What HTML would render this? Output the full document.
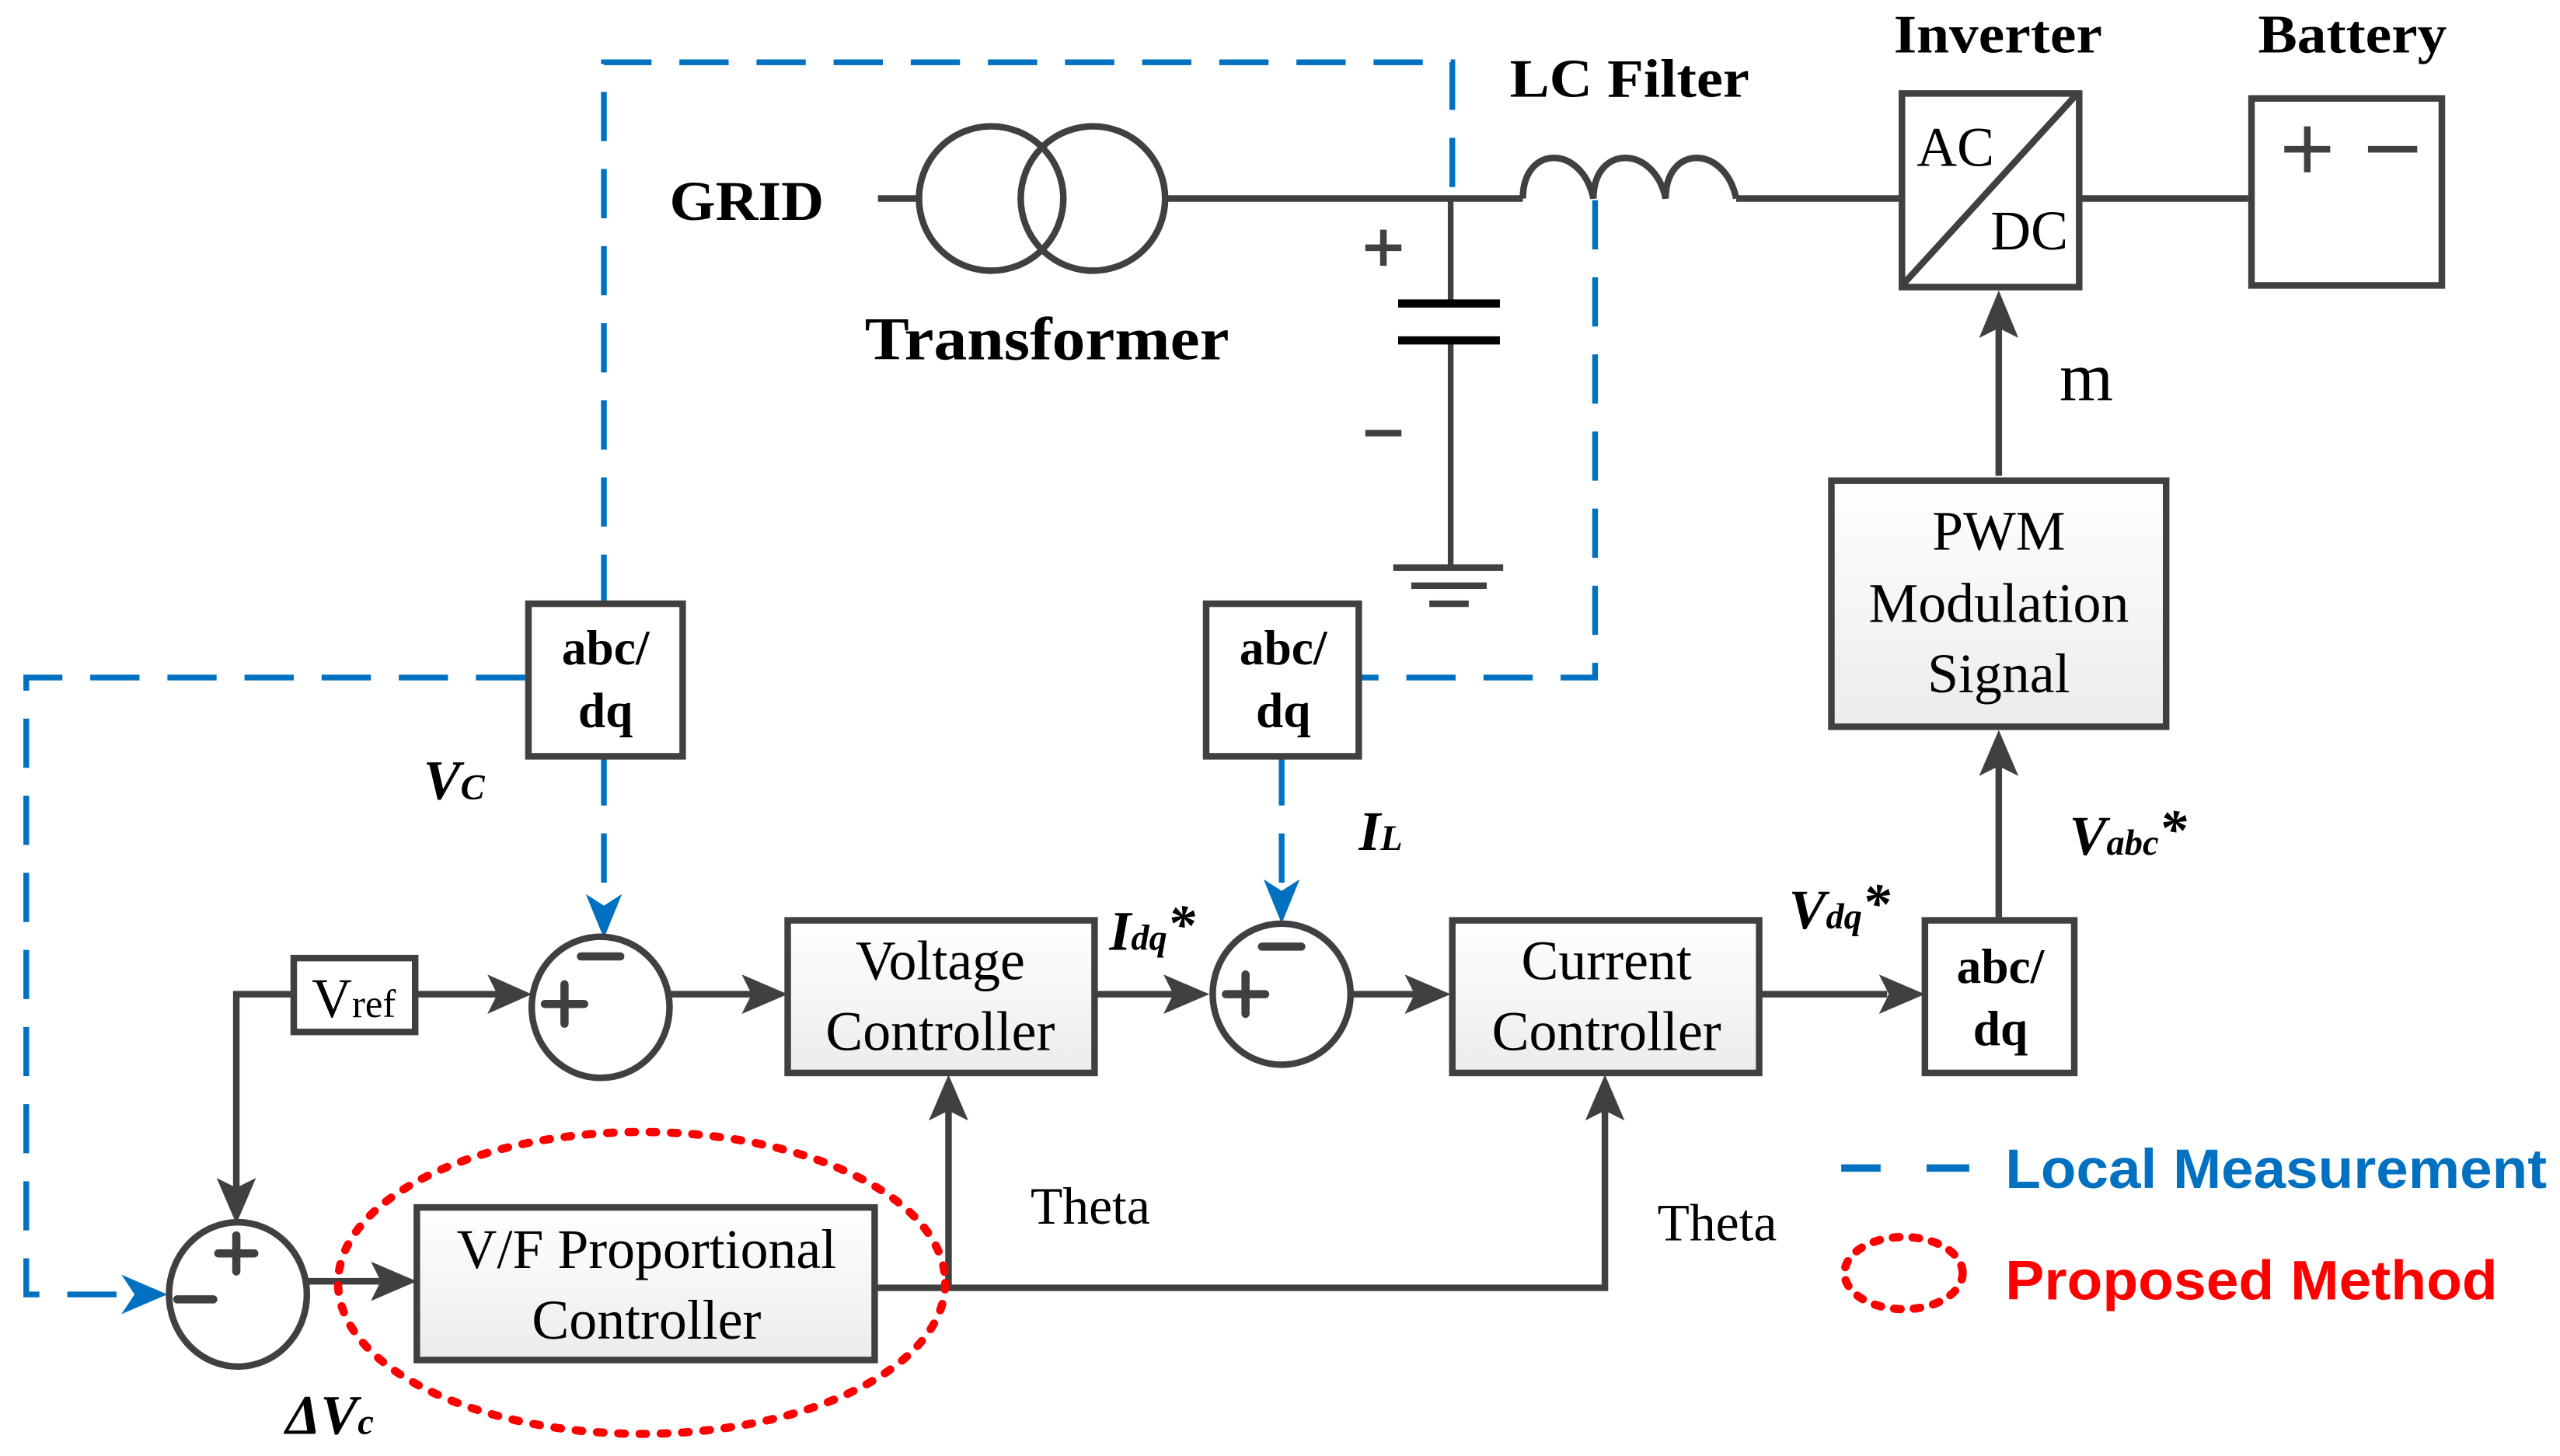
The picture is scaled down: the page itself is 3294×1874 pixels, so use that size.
<!DOCTYPE html>
<html><head><meta charset="utf-8"><style>
html,body{margin:0;padding:0;background:#fff;}
svg{display:block;}
text{font-family:"Liberation Serif",serif;fill:#000;}
.s{font-family:"Liberation Sans",sans-serif;font-weight:bold;}
</style></head><body>
<svg width="3294" height="1874" viewBox="0 0 1560 887.5" preserveAspectRatio="none" xmlns="http://www.w3.org/2000/svg">
<defs>
<linearGradient id="g" x1="0" y1="0" x2="0" y2="1"><stop offset="0" stop-color="#ffffff"/><stop offset="1" stop-color="#ececec"/></linearGradient>
</defs>
<g fill="none" stroke="#0070C0" stroke-width="3.5" stroke-dasharray="30 17">
<path d="M368,368 V38 H885 V121"/>
<path d="M320,413 H16 V789 H90"/>
<path d="M972,122 V413 H828"/>
<path d="M368,461 V555"/>
<path d="M781,461 V548"/>
</g>
<g fill="#0070C0">
<polygon points="368,572 357,545 368,552 379,545"/>
<polygon points="781,563 770,536 781,543 792,536"/>
<polygon points="102,789 74,777 82,789 74,801"/>
</g>
<g fill="none" stroke="#404040" stroke-width="4">
<path d="M535,121 H562 M710,121 H928 M1058,121 H1157 M1267,121 H1370"/>
<circle cx="604" cy="121" r="44"/>
<circle cx="666" cy="121" r="44"/>
<path d="M928,121 C928,88 964,88 971,121 C971,88 1008,88 1015,121 C1015,88 1051,88 1058,121"/>
<path d="M884,121 V185 M884,207 V346" stroke-width="3.5"/>
<path d="M852,185 H914 M852,207.5 H914" stroke="#000" stroke-width="5"/>
<path d="M849,346 H916 M860,357 H906 M871,368 H895"/>
<path d="M832,151 H854 M843,140 V162 M832,264 H854"/>
<rect x="1159" y="57" width="108" height="118"/>
<path d="M1160,173 L1265,58"/>
<rect x="1372" y="60" width="116" height="114"/>
<path d="M1392,91 H1420 M1406,77 V105 M1443,91 H1473"/>
<path d="M1218,290 V198"/>
<rect x="1116" y="293" width="204" height="150" fill="url(#g)"/>
<rect x="322" y="368" width="94" height="93" fill="#fff"/>
<rect x="735" y="368" width="93" height="93" fill="#fff"/>
<rect x="179" y="584" width="74" height="45" fill="#fff"/>
<path d="M179,606 H144 V725"/>
<path d="M253,606 H305 M408,606 H458 M666,606 H716 M824,606 H862 M1070,606 H1150 M1218,559 V466"/>
<ellipse cx="366" cy="614" rx="42" ry="43"/>
<ellipse cx="781" cy="606" rx="42" ry="43"/>
<ellipse cx="145" cy="789" rx="42" ry="44"/>
<rect x="480" y="561" width="187" height="93" fill="url(#g)"/>
<rect x="885" y="561" width="187" height="93" fill="url(#g)"/>
<rect x="1173" y="561" width="91" height="93" fill="#fff"/>
<rect x="254" y="736" width="279" height="93" fill="url(#g)"/>
<path d="M187,781 H232 M533,785 H978 V676 M578,785 V676"/>
<g stroke-width="5" stroke-linecap="round">
<path d="M354,583 H378 M332,612 H356 M344,600 V624"/>
<path d="M769,577 H793 M747,606 H771 M759,594 V618"/>
<path d="M133,764 H155 M144,753 V775 M108,792 H130"/>
</g>
</g>
<g fill="#404040">
<polygon points="1218,177 1206,206 1218,200 1230,206"/>
<polygon points="324,606 297,594 303,606 297,618"/>
<polygon points="480,606 452,594 458,606 452,618"/>
<polygon points="737,606 709,594 715,606 709,618"/>
<polygon points="884,606 856,594 862,606 856,618"/>
<polygon points="1173,606 1145,594 1151,606 1145,618"/>
<polygon points="1218,445 1206,473 1218,467 1230,473"/>
<polygon points="144,746 132,718 144,724 156,718"/>
<polygon points="254,781 226,769 232,781 226,793"/>
<polygon points="578,655 566,683 578,677 590,683"/>
<polygon points="978,655 966,683 978,677 990,683"/>
</g>
<ellipse cx="391" cy="782" rx="185" ry="92" fill="none" stroke="#ff0000" stroke-width="5" stroke-dasharray="4 9" stroke-linecap="round"/>
<ellipse cx="1160" cy="776" rx="36" ry="22" fill="none" stroke="#ff0000" stroke-width="5" stroke-dasharray="4 8" stroke-linecap="round"/>
<path d="M1122,712 H1146 M1174,712 H1200" stroke="#0070C0" stroke-width="4.5"/>
<text x="408" y="134" font-size="34" font-weight="bold" textLength="94" lengthAdjust="spacingAndGlyphs">GRID</text>
<text x="527" y="219" font-size="37" font-weight="bold" textLength="222" lengthAdjust="spacingAndGlyphs">Transformer</text>
<text x="920" y="59" font-size="33" font-weight="bold" textLength="146" lengthAdjust="spacingAndGlyphs">LC Filter</text>
<text x="1154" y="32" font-size="33" font-weight="bold" textLength="127" lengthAdjust="spacingAndGlyphs">Inverter</text>
<text x="1376" y="32" font-size="33" font-weight="bold" textLength="115" lengthAdjust="spacingAndGlyphs">Battery</text>
<text x="1168" y="101" font-size="34">AC</text>
<text x="1213" y="152" font-size="34">DC</text>
<text x="1255" y="244" font-size="42">m</text>
<g font-size="34" text-anchor="middle">
<text x="1218" y="335">PWM</text>
<text x="1218" y="379">Modulation</text>
<text x="1218" y="422">Signal</text>
<text x="573" y="597">Voltage</text>
<text x="573" y="640">Controller</text>
<text x="979" y="597">Current</text>
<text x="979" y="640">Controller</text>
<text x="394" y="773">V/F Proportional</text>
<text x="394" y="816">Controller</text>
</g>
<g font-size="30" font-weight="bold" text-anchor="middle">
<text x="369" y="405">abc/</text><text x="369" y="443">dq</text>
<text x="782" y="405">abc/</text><text x="782" y="443">dq</text>
<text x="1219" y="599">abc/</text><text x="1219" y="637">dq</text>
</g>
<text x="190" y="620" font-size="34">V<tspan font-size="24">ref</tspan></text>
<g font-weight="bold" font-style="italic">
<text x="258" y="487" font-size="34">V<tspan font-size="22">C</tspan></text>
<text x="828" y="518" font-size="34">I<tspan font-size="22">L</tspan></text>
<text x="676" y="579" font-size="34">I<tspan font-size="22">dq</tspan><tspan font-size="34" dy="-4">*</tspan></text>
<text x="1090" y="566" font-size="34">V<tspan font-size="22">dq</tspan><tspan font-size="34" dy="-4">*</tspan></text>
<text x="1261" y="521" font-size="34">V<tspan font-size="22">abc</tspan><tspan font-size="34" dy="-4">*</tspan></text>
<text x="174" y="874" font-size="34">ΔV<tspan font-size="22">c</tspan></text>
</g>
<text x="628" y="746" font-size="32">Theta</text>
<text x="1010" y="756" font-size="32">Theta</text>
<text class="s" x="1222" y="724" font-size="34" style="fill:#0070C0" textLength="330" lengthAdjust="spacingAndGlyphs">Local Measurement</text>
<text class="s" x="1222" y="792" font-size="34" style="fill:#ff0000" textLength="300" lengthAdjust="spacingAndGlyphs">Proposed Method</text>
</svg>
</body></html>
